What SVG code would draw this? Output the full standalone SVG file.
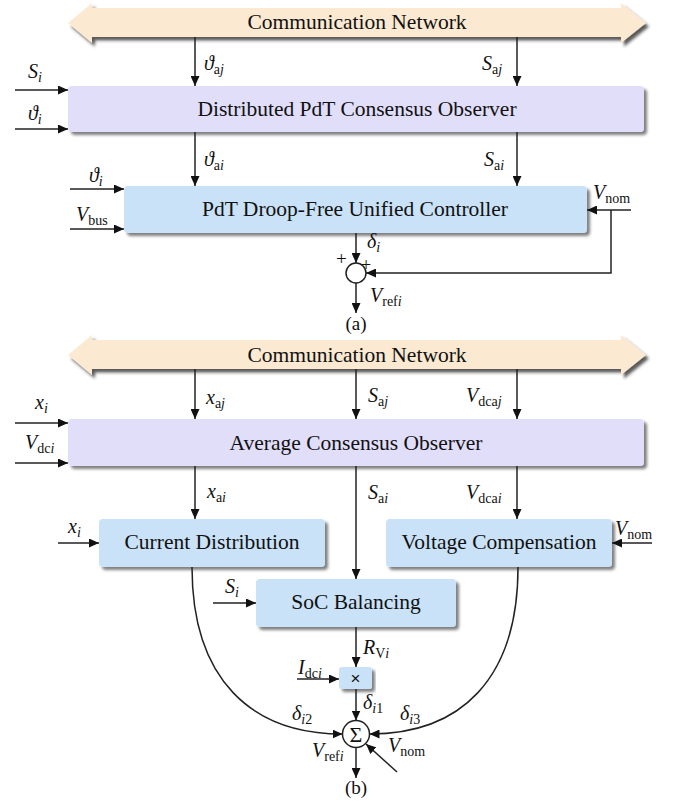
<svg xmlns="http://www.w3.org/2000/svg" width="674" height="803" viewBox="0 0 674 803">
<defs>
<filter id="sh" x="-5%" y="-20%" width="115%" height="150%">
<feDropShadow dx="3" dy="3" stdDeviation="1.6" flood-color="#000" flood-opacity="0.5"/>
</filter>
<filter id="shn" x="-5%" y="-30%" width="115%" height="170%">
<feDropShadow dx="3" dy="3.5" stdDeviation="1.4" flood-color="#222" flood-opacity="0.75"/>
</filter>
<marker id="ah" markerUnits="userSpaceOnUse" markerWidth="11" markerHeight="9" refX="10" refY="4.5" orient="auto">
<path d="M0,0 L10,4.5 L0,9 Z" fill="#111"/>
</marker>
</defs>
<style>
.net{fill:#FBE9D2;filter:url(#shn)}
.obs{fill:#E1DEFA;filter:url(#sh)}
.ctl{fill:#C9E2F7;filter:url(#sh)}
.bt{font-family:"Liberation Serif","Times New Roman",serif;font-size:21.5px;fill:#111;text-anchor:middle}
.lb{font-family:"Liberation Serif","Times New Roman",serif;font-size:20px;fill:#111}
.it{font-style:italic}
.sb{font-size:14px}
.ln{fill:none;stroke:#222;stroke-width:1.5}
.ar{fill:none;stroke:#222;stroke-width:1.5;marker-end:url(#ah)}
</style>

<!-- (a) -->
<g id="netA">
<polygon class="net" points="68,23 92,3 92,8 621,8 621,3 646,23 621,43 621,37 92,37 92,43"/>
<text class="bt" x="357" y="29">Communication Network</text>
</g>
<g id="obsA">
<rect class="obs" x="68" y="86" width="576" height="46" rx="4"/>
<text class="bt" x="357" y="116">Distributed PdT Consensus Observer</text>
</g>
<g id="ctlA">
<rect class="ctl" x="124" y="186" width="463" height="47" rx="4"/>
<text class="bt" x="355" y="216">PdT Droop-Free Unified Controller</text>
</g>
<g id="sumA">
<circle cx="356" cy="273" r="10" fill="#fff" stroke="#222" stroke-width="1.5"/>
</g>

<!-- (b) -->
<g id="netB">
<polygon class="net" points="68,355 92,335 92,340 621,340 621,335 646,355 621,375 621,369 92,369 92,375"/>
<text class="bt" x="357" y="362">Communication Network</text>
</g>
<g id="obsB">
<rect class="obs" x="68" y="419" width="576" height="47" rx="4"/>
<text class="bt" x="356" y="450">Average Consensus Observer</text>
</g>
<g id="curDist">
<rect class="ctl" x="99" y="519" width="226" height="48" rx="4"/>
<text class="bt" x="212" y="549">Current Distribution</text>
</g>
<g id="voltComp">
<rect class="ctl" x="386" y="519" width="226" height="48" rx="4"/>
<text class="bt" x="499" y="549">Voltage Compensation</text>
</g>
<g id="socBal">
<rect class="ctl" x="256" y="579" width="200" height="48" rx="4"/>
<text class="bt" x="356" y="609">SoC Balancing</text>
</g>
<g id="mult">
<rect class="ctl" x="339" y="667" width="33" height="22" rx="3"/>
<text x="355.5" y="684" font-family="Liberation Sans, Arial, sans-serif" font-size="17" text-anchor="middle" fill="#111">×</text>
</g>
<g id="sumB">
<circle cx="356" cy="734" r="13.5" fill="#fff" stroke="#222" stroke-width="1.5"/>
<text x="356" y="742" font-family="Liberation Serif, serif" font-size="22" text-anchor="middle" fill="#111">Σ</text>
</g>

<g id="connectors">
<!-- (a) -->
<line class="ar" x1="195" y1="37" x2="195" y2="86"/>
<line class="ar" x1="517" y1="37" x2="517" y2="86"/>
<line class="ar" x1="15" y1="90" x2="68" y2="90"/>
<line class="ar" x1="15" y1="129" x2="68" y2="129"/>
<line class="ar" x1="195" y1="132" x2="195" y2="186"/>
<line class="ar" x1="517" y1="132" x2="517" y2="186"/>
<line class="ar" x1="70" y1="189" x2="124" y2="189"/>
<line class="ar" x1="70" y1="229" x2="124" y2="229"/>
<line class="ar" x1="631" y1="210" x2="587" y2="210"/>
<polyline class="ar" points="611,210 611,273 366,273"/>
<line class="ar" x1="356" y1="233" x2="356" y2="263"/>
<line class="ar" x1="356" y1="283" x2="356" y2="313"/>
<!-- (b) -->
<line class="ar" x1="195" y1="369" x2="195" y2="419"/>
<line class="ar" x1="356" y1="369" x2="356" y2="419"/>
<line class="ar" x1="517" y1="369" x2="517" y2="419"/>
<line class="ar" x1="15" y1="423" x2="68" y2="423"/>
<line class="ar" x1="15" y1="463" x2="68" y2="463"/>
<line class="ar" x1="195" y1="466" x2="195" y2="519"/>
<line class="ar" x1="517" y1="466" x2="517" y2="519"/>
<line class="ar" x1="356" y1="466" x2="356" y2="579"/>
<line class="ar" x1="58" y1="543" x2="99" y2="543"/>
<line class="ar" x1="652" y1="543" x2="612" y2="543"/>
<line class="ar" x1="213" y1="603" x2="256" y2="603"/>
<line class="ar" x1="356" y1="627" x2="356" y2="667"/>
<line class="ar" x1="297" y1="679" x2="339" y2="679"/>
<line class="ar" x1="356" y1="689" x2="356" y2="720.5"/>
<path class="ar" d="M192,567 C192,680 252,734 342.5,734"/>
<path class="ar" d="M518,567 C518,680 460,734 369.5,734"/>
<line class="ar" x1="397" y1="772" x2="366" y2="744"/>
<line class="ar" x1="356" y1="747.5" x2="356" y2="778"/>
</g>

<!-- labels (a) -->
<g class="lb">
<text x="204" y="70"><tspan class="it">ϑ</tspan><tspan class="sb" dy="4">a</tspan><tspan class="sb it">j</tspan></text>
<text x="482" y="70"><tspan class="it">S</tspan><tspan class="sb" dy="4">a</tspan><tspan class="sb it">j</tspan></text>
<text x="28" y="78"><tspan class="it">S</tspan><tspan class="sb it" dy="4">i</tspan></text>
<text x="28" y="120"><tspan class="it">ϑ</tspan><tspan class="sb it" dy="4">i</tspan></text>
<text x="204" y="166"><tspan class="it">ϑ</tspan><tspan class="sb" dy="4">a</tspan><tspan class="sb it">i</tspan></text>
<text x="484" y="166"><tspan class="it">S</tspan><tspan class="sb" dy="4">a</tspan><tspan class="sb it">i</tspan></text>
<text x="89" y="182"><tspan class="it">ϑ</tspan><tspan class="sb it" dy="4">i</tspan></text>
<text x="76" y="221"><tspan class="it">V</tspan><tspan class="sb" dy="4">bus</tspan></text>
<text x="593" y="199"><tspan class="it">V</tspan><tspan class="sb" dy="4">nom</tspan></text>
<text x="367" y="248"><tspan class="it">δ</tspan><tspan class="sb it" dy="4">i</tspan></text>
<text x="336" y="265" font-size="19">+</text>
<text x="361" y="271" font-size="18">+</text>
<text x="370" y="302"><tspan class="it">V</tspan><tspan class="sb" dy="4">ref</tspan><tspan class="sb it">i</tspan></text>
<text x="356" y="330" text-anchor="middle" font-size="19">(a)</text>
</g>

<!-- labels (b) -->
<g class="lb">
<text x="206" y="404"><tspan class="it">x</tspan><tspan class="sb" dy="4">a</tspan><tspan class="sb it">j</tspan></text>
<text x="368" y="402"><tspan class="it">S</tspan><tspan class="sb" dy="4">a</tspan><tspan class="sb it">j</tspan></text>
<text x="466" y="402"><tspan class="it">V</tspan><tspan class="sb" dy="4">dca</tspan><tspan class="sb it">j</tspan></text>
<text x="35" y="409"><tspan class="it">x</tspan><tspan class="sb it" dy="4">i</tspan></text>
<text x="25" y="449"><tspan class="it">V</tspan><tspan class="sb" dy="4">dc</tspan><tspan class="sb it">i</tspan></text>
<text x="207" y="498"><tspan class="it">x</tspan><tspan class="sb" dy="4">a</tspan><tspan class="sb it">i</tspan></text>
<text x="368" y="499"><tspan class="it">S</tspan><tspan class="sb" dy="4">a</tspan><tspan class="sb it">i</tspan></text>
<text x="466" y="499"><tspan class="it">V</tspan><tspan class="sb" dy="4">dca</tspan><tspan class="sb it">i</tspan></text>
<text x="68" y="533"><tspan class="it">x</tspan><tspan class="sb it" dy="4">i</tspan></text>
<text x="615" y="535"><tspan class="it">V</tspan><tspan class="sb" dy="4">nom</tspan></text>
<text x="225" y="593"><tspan class="it">S</tspan><tspan class="sb it" dy="4">i</tspan></text>
<text x="363" y="654"><tspan class="it">R</tspan><tspan class="sb" dy="4">V</tspan><tspan class="sb it">i</tspan></text>
<text x="298" y="674"><tspan class="it">I</tspan><tspan class="sb" dy="4">dc</tspan><tspan class="sb it">i</tspan></text>
<text x="363" y="709"><tspan class="it">δ</tspan><tspan class="sb it" dy="4">i</tspan><tspan class="sb">1</tspan></text>
<text x="292" y="720"><tspan class="it">δ</tspan><tspan class="sb it" dy="4">i</tspan><tspan class="sb">2</tspan></text>
<text x="400" y="720"><tspan class="it">δ</tspan><tspan class="sb it" dy="4">i</tspan><tspan class="sb">3</tspan></text>
<text x="312" y="757"><tspan class="it">V</tspan><tspan class="sb" dy="4">ref</tspan><tspan class="sb it">i</tspan></text>
<text x="388" y="752"><tspan class="it">V</tspan><tspan class="sb" dy="4">nom</tspan></text>
<text x="356" y="794" text-anchor="middle" font-size="19">(b)</text>
</g>
</svg>
